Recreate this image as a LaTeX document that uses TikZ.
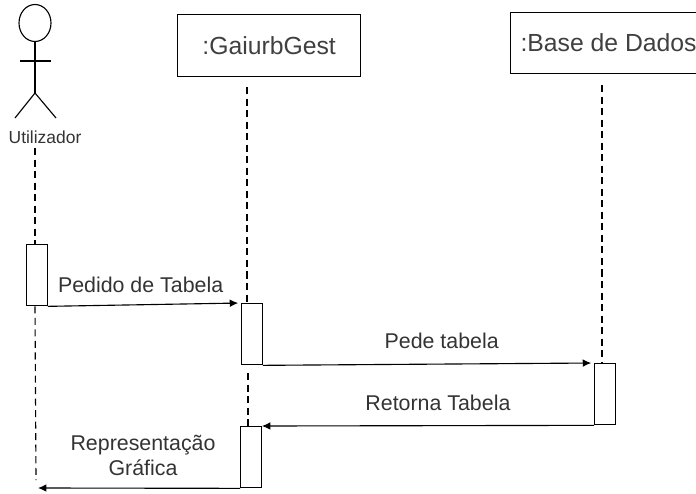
\documentclass[tikz,border=0pt]{standalone}
\usepackage{fontspec}
\setmainfont{Liberation Sans}
\usetikzlibrary{arrows.meta}
\tikzset{
    lifebox/.style={draw, thick, minimum height=1.5cm, anchor=north west, inner sep=0pt, font=\fontsize{17.6}{20}\selectfont, text=black!75},
    activation/.style={draw, thick, minimum width=0.52cm, minimum height=1.53cm, anchor=north west, inner sep=0pt},
    message/.style={thick, -{Latex[length=6pt,width=5.5pt]}},
    lifeline/.style={thick, dash pattern=on 5pt off 3.2pt},
    msglabel/.style={font=\fontsize{15.2}{17.8}\selectfont, text=black!80, align=center, inner sep=0pt}
}
\begin{document}
\begin{tikzpicture}[x=0.025cm, y=-0.025cm]
    \useasboundingbox (0,0) rectangle (696,493);
    % actor
    \draw [thick] (35,23) ellipse (16 and 18.5);
    \draw [thick] (35,41) -- (35,93);
    \draw [thick] (20,61) -- (51,61);
    \draw [thick] (15,118) -- (35,93) -- (56,118);
    \node (actorlabel) at (45,137) [font=\fontsize{12.4}{14}\selectfont, text=black!80, inner sep=0pt] {Utilizador};
    % objects
    \node (gest) at (177,14) [lifebox, minimum width=4.575cm, minimum height=1.55cm] {:GaiurbGest};
    \node (base) at (510,12) [lifebox, minimum width=4.9cm, minimum height=1.52cm] {:Base de Dados};
    % activations
    \node (actA) at (26,244) [activation] {};
    \node (actB) at (241,303) [activation] {};
    \node (actC) at (594,363) [activation] {};
    \node (actD) at (240,426) [activation] {};
    % lifelines
    \coordinate (actorend) at (36,480);
    \coordinate (topA) at (35,148);
    \coordinate (topB) at (247,87);
    \coordinate (topC) at (602,85);
    \coordinate (midB) at (248,373);
    \draw [lifeline] (topA) -- (actA.north -| topA);
    \draw [lifeline] (actA.south -| topA) -- (actorend);
    \draw [lifeline] (topB) -- (actB.north -| topB);
    \draw [lifeline] (midB) -- (actD.north -| midB);
    \draw [lifeline] (topC) -- (actC.north -| topC);
    % messages
    \coordinate (returnend) at (38,488);
    \draw [message, shorten >=2pt] (actA.south east) -- (actB.north west) node[msglabel, pos=0.48, yshift=0.5cm]{Pedido de Tabela};
    \draw [message, shorten >=2pt] (actB.south east) -- (actC.north west) node[msglabel, pos=0.54, yshift=0.57cm]{Pede tabela};
    \draw [message] (actC.south west) -- (actD.north east) node[msglabel, pos=0.47, yshift=0.57cm]{Retorna Tabela};
    \draw [message] (actD.south west) -- (returnend) node[msglabel, pos=0.48, yshift=0.81cm]{Representação\\Gráfica};
\end{tikzpicture}
\end{document}
